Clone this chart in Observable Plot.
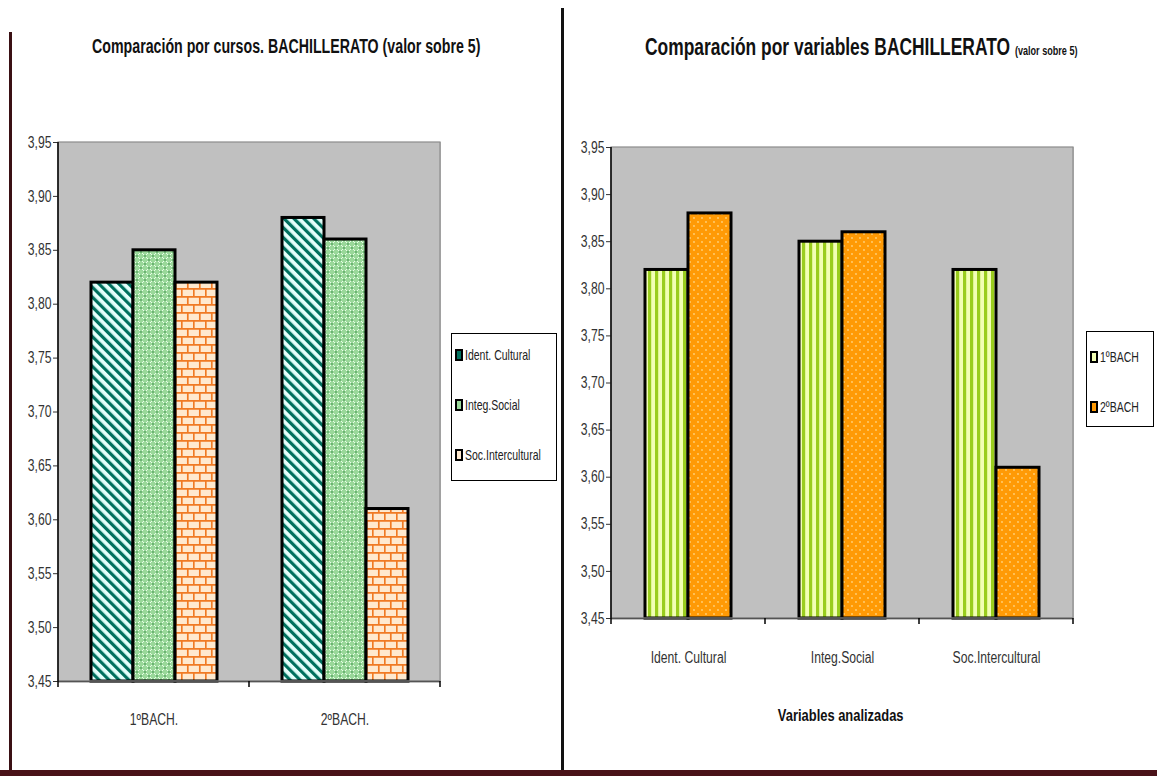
<!DOCTYPE html>
<html><head><meta charset="utf-8">
<script src="https://cdn.jsdelivr.net/npm/d3@7"></script>
<script src="https://cdn.jsdelivr.net/npm/@observablehq/plot@0.6"></script>
<style>
body{margin:0;background:#fff;}
#page{position:relative;width:1157px;height:778px;overflow:hidden;font-family:"Liberation Sans","Arial",sans-serif;color:#222;}
.abs{position:absolute;}
.title{font-weight:bold;white-space:nowrap;color:#111;}
.nar{display:inline-block;transform-origin:0 50%;white-space:nowrap;}
.legend{position:absolute;border:1px solid #000;background:#fff;box-sizing:border-box;}
.item{position:absolute;white-space:nowrap;font-size:15px;color:#222;}
</style></head>
<body><div id="page">
<svg width="0" height="0" style="position:absolute">
  <defs>
    <pattern id="patIdent" patternUnits="userSpaceOnUse" width="7" height="7" patternTransform="rotate(-45)">
      <rect width="7" height="7" fill="#e4fffb"/>
      <rect width="3.2" height="7" fill="#00705e"/>
    </pattern>
    <pattern id="patInteg" patternUnits="userSpaceOnUse" width="8" height="8">
      <rect width="8" height="8" fill="#9ad89a"/>
      <path d="M0,0L8,8M8,0L0,8" stroke="#eaffea" stroke-width="1"/>
      <circle cx="4" cy="4" r="0.9" fill="#2f8f3a"/>
      <circle cx="0" cy="0" r="0.9" fill="#2f8f3a"/>
      <circle cx="8" cy="0" r="0.9" fill="#2f8f3a"/>
      <circle cx="0" cy="8" r="0.9" fill="#2f8f3a"/>
      <circle cx="8" cy="8" r="0.9" fill="#2f8f3a"/>
    </pattern>
    <pattern id="patSoc" patternUnits="userSpaceOnUse" width="12" height="16">
      <rect width="12" height="16" fill="#ffe9cf"/>
      <path d="M0,0.8H12M0,8.8H12M0.8,0.8V8.8M6.8,8.8V16" stroke="#f07a24" stroke-width="1.7" fill="none"/>
    </pattern>
    <pattern id="pat1B" patternUnits="userSpaceOnUse" width="7" height="7">
      <rect width="7" height="7" fill="#f2ffb4"/>
      <rect width="3.2" height="7" fill="#9acd1e"/>
    </pattern>
    <pattern id="pat2B" patternUnits="userSpaceOnUse" width="8" height="8">
      <rect width="8" height="8" fill="#ff9a05"/>
      <circle cx="2" cy="2" r="0.9" fill="#ffd27a"/>
      <circle cx="6" cy="6" r="0.9" fill="#ffd27a"/>
    </pattern>
  </defs>
</svg>
<div class="abs" style="left:9px;top:32px;width:3px;height:744px;background:#3a1014;"></div>
<div class="abs" style="left:561px;top:8px;width:3px;height:766px;background:#111;"></div>
<div class="abs" style="left:0px;top:770px;width:1157px;height:6px;background:#4a1218;"></div>

<div class="abs title" style="left:92px;top:35px;font-size:20px;"><span class="nar" style="transform:scaleX(0.71)">Comparación por cursos. BACHILLERATO (valor sobre 5)</span></div>
<div class="abs title" style="left:645px;top:34px;font-size:23px;"><span class="nar" style="transform:scaleX(0.757)">Comparación por variables BACHILLERATO <span style="font-size:12px;">(valor sobre 5)</span></span></div>
<div class="abs title" style="left:741px;top:706px;width:200px;text-align:center;font-size:17px;"><span class="nar" style="transform:scaleX(0.76);transform-origin:50% 50%">Variables analizadas</span></div>
</div>
<script>
// ---- data ----
const variables = ["Ident. Cultural", "Integ.Social", "Soc.Intercultural"];
const cursos = ["1ºBACH", "2ºBACH"];
const cursosEje = ["1ºBACH.", "2ºBACH."];
const valores1B = [3.82, 3.85, 3.82];
const valores2B = [3.88, 3.86, 3.61];
const yTicks = [3.45, 3.50, 3.55, 3.60, 3.65, 3.70, 3.75, 3.80, 3.85, 3.90, 3.95];
const yMin = 3.45, yMax = 3.95;

const patVariables = ["url(#patIdent)", "url(#patInteg)", "url(#patSoc)"];
const patCursos = ["url(#pat1B)", "url(#pat2B)"];
const swVariables = ["#00705e", "#9ad89a", "#ffe9cf"];
const swCursos = ["#f2ffb4", "#ff9a05"];

const rows = [];
[valores1B, valores2B].forEach((vals, i) => vals.forEach((v, j) => rows.push({curso: cursos[i], variable: variables[j], valor: v})));

const fmt = d => d.toFixed(2).replace(".", ",");
const font = `"Liberation Sans",Arial,sans-serif`;
const page = document.getElementById("page");

function narrow(svgEl, k) {
  svgEl.querySelectorAll("text").forEach(t => {
    const L = t.getComputedTextLength();
    if (L > 0) {
      t.setAttribute("textLength", (L * k).toFixed(1));
      t.setAttribute("lengthAdjust", "spacingAndGlyphs");
    }
  });
}

function chart({fxKey, xKey, fxDomain, xDomain, fills, fxLabels, width, height, margins, padOuter, fxPad, left}) {
  const plot = Plot.plot({
    width, height,
    marginLeft: margins[0], marginRight: margins[1], marginTop: margins[2], marginBottom: margins[3],
    style: {fontFamily: font, fontSize: "16px", color: "#333", background: "transparent", overflow: "visible"},
    y: {domain: [yMin, yMax], ticks: yTicks, tickFormat: fmt, tickSize: 5, tickPadding: 2, line: true, label: null},
    fx: {domain: fxDomain, padding: 0, tickSize: 0, tickPadding: fxPad, label: null, axis: "bottom",
         tickFormat: fxLabels ? (d => fxLabels[fxDomain.indexOf(d)]) : (d => d)},
    x: {domain: xDomain, paddingInner: 0, paddingOuter: padOuter, align: 0.5, axis: null},
    color: {domain: xDomain, range: fills, type: "ordinal"},
    marks: [
      Plot.frame({fill: "#c0c0c0", stroke: "#c0c0c0", strokeWidth: 1}),
      Plot.barY(rows, {fx: fxKey, x: xKey, y1: yMin, y2: "valor", fill: xKey, stroke: "#000", strokeWidth: 3}),
      Plot.ruleY([yMin], {stroke: "#000", strokeWidth: 1.5})
    ]
  });
  const fxs = plot.scale("fx"), ys = plot.scale("y");
  const y0 = ys.apply(yMin), yTop = ys.apply(yMax);
  const bounds = fxDomain.map(d => fxs.apply(d)).concat([fxs.apply(fxDomain[fxDomain.length - 1]) + fxs.bandwidth]);
  const svg = d3.select(plot);
  svg.append("rect")
    .attr("x", bounds[0]).attr("y", yTop)
    .attr("width", bounds[bounds.length - 1] - bounds[0]).attr("height", y0 - yTop)
    .attr("fill", "none").attr("stroke", "#8c8c8c").attr("stroke-width", 1.2);
  svg.append("g").selectAll("line").data(bounds).join("line")
    .attr("x1", d => d).attr("x2", d => d).attr("y1", y0).attr("y2", y0 + 6)
    .attr("stroke", "#000").attr("stroke-width", 1.5);
  svg.append("line").attr("x1", bounds[0]).attr("x2", bounds[0]).attr("y1", yTop).attr("y2", y0)
    .attr("stroke", "#000").attr("stroke-width", 1.5);
  plot.style.position = "absolute";
  plot.style.left = left + "px";
  plot.style.top = "0px";
  page.appendChild(plot);
  narrow(plot, 0.76);
}

chart({fxKey: "curso", xKey: "variable", fxDomain: cursos, xDomain: variables, fills: patVariables,
       fxLabels: cursosEje, width: 560, height: 778, margins: [57, 120, 142, 97], padOuter: 0.74, fxPad: 32, left: 0});
chart({fxKey: "variable", xKey: "curso", fxDomain: variables, xDomain: cursos, fills: patCursos,
       fxLabels: null, width: 594, height: 778, margins: [47, 84, 147, 160], padOuter: 0.77, fxPad: 33, left: 563});

// legends (HTML)
function legend(left, top, w, h, labels, fills, ys) {
  const box = document.createElement("div");
  box.className = "legend";
  Object.assign(box.style, {left: left + "px", top: top + "px", width: w + "px", height: h + "px"});
  labels.forEach((lab, i) => {
    const it = document.createElement("div");
    it.className = "item";
    Object.assign(it.style, {left: "3px", top: (ys[i] - top - 10) + "px"});
    const s = document.createElement("span");
    s.style.cssText = `display:inline-block;width:4px;height:8px;border:2px solid #000;vertical-align:-1px;margin-right:2px;background:${fills[i]}`;
    const t = document.createElement("span");
    t.className = "nar";
    t.style.transform = "scaleX(0.7)";
    t.textContent = lab;
    it.appendChild(s);
    it.appendChild(t);
    box.appendChild(it);
  });
  page.appendChild(box);
}
legend(451, 333, 106, 148, variables, swVariables, [355, 405, 455]);
legend(1086, 331, 68, 96, cursos, swCursos, [357, 407]);
</script>
</body></html>
